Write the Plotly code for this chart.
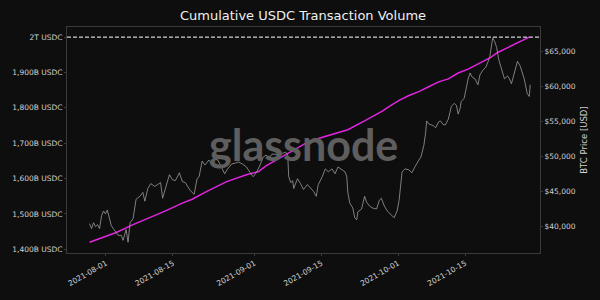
import plotly.graph_objects as go

# BTC price (USD)
price_dates = [
"2021-07-28 14:00","2021-07-29 00:00","2021-07-29 10:00","2021-07-29 20:00","2021-07-30 06:00","2021-07-30 16:00",
"2021-07-31 02:00","2021-07-31 12:00","2021-07-31 22:00","2021-08-01 07:00","2021-08-01 17:00","2021-08-02 03:00",
"2021-08-02 13:00","2021-08-02 23:00","2021-08-03 14:00","2021-08-04 05:00","2021-08-04 14:00","2021-08-05 05:00",
"2021-08-05 15:00","2021-08-06 01:00","2021-08-06 16:00","2021-08-07 02:00","2021-08-07 07:00","2021-08-08 02:00",
"2021-08-08 17:00","2021-08-09 03:00","2021-08-09 18:00","2021-08-10 09:00","2021-08-11 04:00","2021-08-11 19:00",
"2021-08-12 10:00","2021-08-12 20:00","2021-08-13 11:00","2021-08-14 06:00","2021-08-14 21:00","2021-08-15 12:00",
"2021-08-16 08:00","2021-08-16 23:00","2021-08-17 14:00","2021-08-18 14:00","2021-08-19 10:00","2021-08-20 01:00",
"2021-08-20 11:00","2021-08-21 02:00","2021-08-21 16:00","2021-08-22 12:00","2021-08-23 03:00","2021-08-23 18:00",
"2021-08-24 09:00","2021-08-25 04:00","2021-08-25 19:00","2021-08-26 10:00","2021-08-27 06:00","2021-08-28 01:00",
"2021-08-28 16:00","2021-08-29 12:00","2021-08-30 08:00","2021-08-31 03:00","2021-08-31 18:00","2021-09-01 09:00",
"2021-09-02 00:00","2021-09-02 20:00","2021-09-03 10:00","2021-09-04 01:00","2021-09-04 16:00","2021-09-05 12:00",
"2021-09-06 03:00","2021-09-06 22:00","2021-09-07 13:00","2021-09-07 23:00","2021-09-08 04:00","2021-09-08 14:00",
"2021-09-09 00:00","2021-09-09 05:00","2021-09-10 00:00","2021-09-10 15:00","2021-09-11 06:00","2021-09-12 02:00",
"2021-09-12 17:00","2021-09-13 08:00","2021-09-13 22:00","2021-09-14 08:00","2021-09-15 04:00","2021-09-15 19:00",
"2021-09-16 10:00","2021-09-17 05:00","2021-09-17 20:00","2021-09-18 11:00","2021-09-19 07:00","2021-09-19 22:00",
"2021-09-20 07:00","2021-09-20 12:00","2021-09-20 22:00","2021-09-21 13:00","2021-09-21 23:00","2021-09-22 09:00",
"2021-09-22 14:00","2021-09-23 09:00","2021-09-24 00:00","2021-09-24 10:00","2021-09-25 01:00","2021-09-25 16:00",
"2021-09-26 12:00","2021-09-27 02:00","2021-09-27 12:00","2021-09-28 03:00","2021-09-28 18:00","2021-09-29 14:00",
"2021-09-30 04:00","2021-09-30 19:00","2021-10-01 05:00","2021-10-01 20:00","2021-10-02 11:00","2021-10-03 06:00",
"2021-10-03 21:00","2021-10-04 12:00","2021-10-04 22:00","2021-10-05 08:00","2021-10-05 18:00","2021-10-06 09:00",
"2021-10-06 18:00","2021-10-06 23:00","2021-10-07 09:00","2021-10-07 19:00","2021-10-08 10:00","2021-10-08 20:00",
"2021-10-09 11:00","2021-10-09 20:00","2021-10-10 11:00","2021-10-10 21:00","2021-10-11 12:00","2021-10-12 03:00",
"2021-10-12 18:00","2021-10-13 04:00","2021-10-13 13:00","2021-10-13 23:00","2021-10-14 04:00","2021-10-14 19:00",
"2021-10-15 05:00","2021-10-15 15:00","2021-10-16 01:00","2021-10-16 10:00","2021-10-17 01:00","2021-10-17 16:00",
"2021-10-18 02:00","2021-10-18 17:00","2021-10-19 08:00","2021-10-19 17:00","2021-10-20 03:00","2021-10-20 18:00",
"2021-10-21 04:00","2021-10-21 14:00","2021-10-22 00:00","2021-10-22 10:00","2021-10-22 20:00","2021-10-23 05:00",
"2021-10-23 20:00","2021-10-24 06:00","2021-10-24 16:00","2021-10-25 07:00","2021-10-25 22:00","2021-10-26 12:00",
"2021-10-27 08:00","2021-10-27 23:00","2021-10-28 09:00","2021-10-28 14:00",
]
btc_price = [
40420,39720,40560,40000,40280,39720,41530,42230,41810,42370,41260,40140,
39720,39300,38750,38750,38050,39580,37770,40560,41120,42930,43900,44320,
44880,43620,45440,46130,45720,45990,46270,44040,45440,47390,46690,46550,
47670,46410,46270,45160,44600,46830,47110,49340,48780,49480,48920,49620,
49480,48500,47530,48230,48920,49060,49200,48920,48500,47670,47110,47670,
48500,49900,50180,49760,50320,50320,50040,50460,50590,50180,47110,46270,
46550,45440,46830,46130,45300,45990,45440,45020,44320,45990,47110,48230,
47810,48230,47530,48500,48090,47810,47110,44880,43350,42650,41260,40980,
42090,42510,44320,43490,42930,42650,42510,43760,44040,42930,42230,41670,
41260,42230,43760,47810,48230,48090,47670,48500,49060,49480,49900,51570,
53380,55060,54640,54500,54360,54080,54920,55060,54500,54500,55330,57150,
57560,57290,56030,56870,57840,58260,59660,61050,61890,61330,61050,60210,
61610,62300,62720,63420,64120,66900,66350,65510,63840,62860,61750,61050,
61470,61050,60350,62030,63560,62860,61050,58960,58540,60210,
]

# Cumulative USDC transaction volume (billions of USDC)
volume_dates = [
"2021-07-28 14:00","2021-08-03 04:00","2021-08-06 16:00","2021-08-10 04:00","2021-08-13 11:00","2021-08-16 23:00",
"2021-08-19 00:00","2021-08-22 02:00","2021-08-26 05:00","2021-08-30 08:00","2021-09-01 19:00","2021-09-03 10:00",
"2021-09-05 12:00","2021-09-07 13:00","2021-09-09 14:00","2021-09-11 16:00","2021-09-14 08:00","2021-09-16 10:00",
"2021-09-18 11:00","2021-09-20 12:00","2021-09-24 00:00","2021-09-27 17:00","2021-09-29 04:00","2021-10-01 05:00",
"2021-10-03 06:00","2021-10-05 08:00","2021-10-07 09:00","2021-10-09 11:00","2021-10-11 12:00","2021-10-13 13:00",
"2021-10-15 15:00","2021-10-18 02:00","2021-10-20 08:00","2021-10-21 19:00","2021-10-23 20:00","2021-10-25 22:00",
"2021-10-28 09:00",
]
usdc_volume_b = [
1420.2,1447.8,1470.0,1489.3,1508.7,1530.8,
1541.8,1564.0,1591.6,1611.0,1619.3,1635.9,
1652.4,1666.3,1682.9,1699.4,1713.3,1721.6,
1729.9,1738.2,1763.0,1790.7,1804.5,1821.1,
1834.9,1846.0,1859.8,1873.6,1881.9,1898.5,
1909.6,1926.2,1942.8,1956.6,1970.4,1984.2,
2000.0,
]

left_tick_vals_b = [1400, 1500, 1600, 1700, 1800, 1900, 2000]
left_tick_text = ["1,400B USDC", "1,500B USDC", "1,600B USDC", "1,700B USDC",
                  "1,800B USDC", "1,900B USDC", "2T USDC"]
right_tick_vals = [40000, 45000, 50000, 55000, 60000, 65000]
right_tick_text = ["$40,000", "$45,000", "$50,000", "$55,000", "$60,000", "$65,000"]
x_tick_vals = ["2021-08-01", "2021-08-15", "2021-09-01", "2021-09-15", "2021-10-01", "2021-10-15"]
threshold_b = 2000

BG = "#0e0e0e"
TXT = "#d0d0d0"
FONT = "DejaVu Sans"

fig = go.Figure()
fig.add_trace(go.Scatter(x=price_dates, y=btc_price, yaxis="y2", mode="lines",
                         line=dict(color="#9a9a9a", width=0.8), name="BTC Price"))
fig.add_trace(go.Scatter(x=volume_dates, y=usdc_volume_b, mode="lines",
                         line=dict(color="#e026e0", width=1.5), name="Cumulative Volume"))

fig.add_shape(type="line", xref="paper", x0=0, x1=1, yref="y", y0=threshold_b, y1=threshold_b,
              line=dict(color="#ffffff", width=1, dash="4px,2px"))

fig.add_annotation(text="glassnode", xref="paper", yref="paper", x=0.5, y=0.48,
                   showarrow=False,
                   font=dict(family="Lato", size=43, color="#5e5e5e", weight=700))

fig.update_layout(
    width=600, height=300,
    margin=dict(l=63, r=57, t=27, b=42),
    paper_bgcolor=BG, plot_bgcolor=BG,
    showlegend=False,
    font=dict(family=FONT, color=TXT, size=7.5),
    title=dict(text="Cumulative USDC Transaction Volume", x=0.505, xanchor="center",
               y=0.948, yanchor="middle", font=dict(family=FONT, size=13, color="#f0f0f0")),
    xaxis=dict(type="date", range=["2021-07-23 21:00", "2021-10-30 15:00"],
               tickvals=x_tick_vals, ticktext=x_tick_vals, tickangle=-30,
               showgrid=False, zeroline=False, showline=True, mirror=True,
               linecolor="#3a3a3a", linewidth=1, ticks="outside", ticklen=2, tickcolor="#3a3a3a",
               tickfont=dict(size=7.5, color=TXT)),
    yaxis=dict(range=[1389.7, 2028.6], tickvals=left_tick_vals_b, ticktext=left_tick_text,
               showgrid=False, zeroline=False, showline=True, mirror=True,
               linecolor="#3a3a3a", linewidth=1, ticks="outside", ticklen=2, tickcolor="#3a3a3a",
               tickfont=dict(size=7.5, color=TXT)),
    yaxis2=dict(overlaying="y", side="right", range=[36240, 68440],
                tickvals=right_tick_vals, ticktext=right_tick_text,
                showgrid=False, zeroline=False, ticks="outside", ticklen=2, tickcolor="#3a3a3a",
                tickfont=dict(size=7.5, color=TXT),
                title=dict(text="BTC Price [USD]", font=dict(size=8.5, color=TXT), standoff=6)),
)

fig.write_html("out.html")
